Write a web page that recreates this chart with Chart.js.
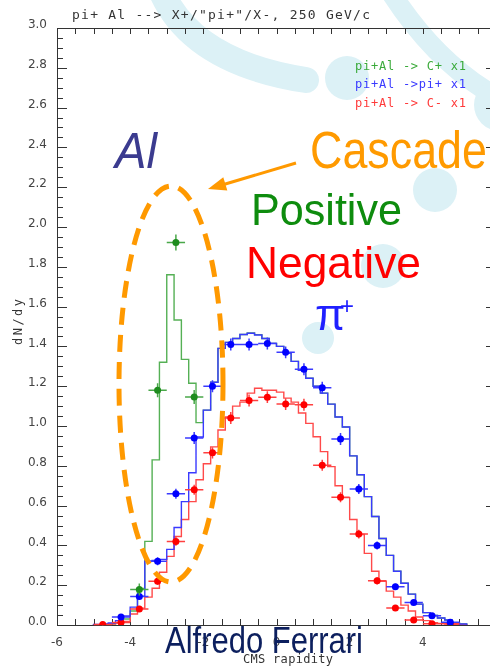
<!DOCTYPE html>
<html><head><meta charset="utf-8">
<script src="https://cdn.jsdelivr.net/npm/chart.js@4.4.1/dist/chart.umd.min.js"></script>
<style>
html,body{margin:0;padding:0;background:#fff;overflow:hidden;width:490px;height:667px;}
#wrap{position:relative;width:490px;height:667px;overflow:hidden;}
#bg,#fg{position:absolute;left:0;top:0;}
#cv{position:absolute;left:0;top:0;}
.sl{font-family:"Liberation Sans",Arial,sans-serif;}
.mono{font-family:"DejaVu Sans Mono",monospace;}
</style></head><body>
<div id="wrap">
<svg id="bg" width="490" height="667">
  <g fill="#dcf1f6" stroke="#dcf1f6">
    <path d="M160 -12 Q 190 62 306 80" stroke-width="26" fill="none" stroke-linecap="round"/>
    <path d="M388 -12 Q 430 55 485 90" stroke-width="20" fill="none" stroke-linecap="round"/>
    <circle cx="347" cy="78" r="22" stroke="none"/>
    <circle cx="435" cy="190" r="22" stroke="none"/>
    <circle cx="383" cy="266" r="22" stroke="none"/>
    <circle cx="318" cy="338" r="16" stroke="none"/>
    <circle cx="500" cy="105" r="26" stroke="none"/>
  </g>
</svg>
<canvas id="cv" width="500" height="667" style="width:500px;height:667px"></canvas>
<svg id="fg" width="490" height="667">
  <text class="mono" x="72" y="19" font-size="13" fill="#333" textLength="298" lengthAdjust="spacing">pi+ Al --&gt; X+/"pi+"/X-, 250 GeV/c</text>
  <text class="mono" x="355" y="70" font-size="12" fill="#3aaa3a" textLength="111" lengthAdjust="spacing">pi+Al -&gt; C+ x1</text>
  <text class="mono" x="355" y="88" font-size="12" fill="#3a3aff" textLength="111" lengthAdjust="spacing">pi+Al -&gt;pi+ x1</text>
  <text class="mono" x="355" y="106.5" font-size="12" fill="#ff3a3a" textLength="111" lengthAdjust="spacing">pi+Al -&gt; C- x1</text>
  <text class="mono" transform="translate(22,322) rotate(-90)" text-anchor="middle" font-size="12" fill="#333" textLength="46" lengthAdjust="spacing">dN/dy</text>
  <text class="mono" x="288" y="663" text-anchor="middle" font-size="12" fill="#333" textLength="90" lengthAdjust="spacing">CMS rapidity</text>

  <ellipse cx="171" cy="384" rx="52" ry="198" fill="none" stroke="#ff9900" stroke-width="5" stroke-dasharray="17 10"/>
  <line x1="296" y1="163" x2="222" y2="185" stroke="#ff9900" stroke-width="3"/>
  <polygon points="208,189 227.3,190.6 223.3,177.2" fill="#ff9900"/>

  <text class="sl" x="115" y="168" font-style="italic" font-size="50" fill="#3b3b8f" textLength="42" lengthAdjust="spacingAndGlyphs">Al</text>
  <text class="sl" x="310" y="168" font-size="51" fill="#ff9a00" textLength="177" lengthAdjust="spacingAndGlyphs">Cascade</text>
  <text class="sl" x="251" y="225" font-size="44" fill="#0e8c0e" textLength="151" lengthAdjust="spacingAndGlyphs">Positive</text>
  <text class="sl" x="246" y="278" font-size="45" fill="#ff0000" textLength="175" lengthAdjust="spacingAndGlyphs">Negative</text>
  <text class="sl" x="315" y="330" font-size="44" fill="#1f1fff">π</text>
  <text class="sl" x="340" y="314" font-size="24" fill="#1f1fff">+</text>
  <text class="sl" x="165" y="653" font-size="36" fill="#0c1f5e" textLength="198" lengthAdjust="spacingAndGlyphs">Alfredo Ferrari</text>
</svg>
</div>
<script>
// ---- tick labels ----
const xTickLabels = [-6, -4, -2, 0, 2, 4];
const yTickLabels = [0.0, 0.2, 0.4, 0.6, 0.8, 1.0, 1.2, 1.4, 1.6, 1.8, 2.0, 2.2, 2.4, 2.6, 2.8, 3.0];

// ---- histogram bins (edges) ----
const binEdges = [-5.0,-4.8,-4.6,-4.4,-4.2,-4.0,-3.8,-3.6,-3.4,-3.2,-3.0,-2.8,-2.6,-2.4,-2.2,-2.0,-1.8,-1.6,-1.4,-1.2,-1.0,
  -0.8,-0.6,-0.4,-0.2,0.0,0.2,0.4,0.6,0.8,1.0,1.2,1.4,1.6,1.8,2.0,2.2,2.4,2.6,2.8,3.0,3.2,3.4,3.6,3.8,4.0,4.2,4.4,4.6,4.8,5.0,5.2];

// simulation histograms (one value per bin)
const histPos = [0.002,0.003,0.006,0.012,0.030,0.070,0.184,0.420,0.830,1.320,1.760,1.533,1.335,1.215,1.017,1.080,1.220,1.390,1.420,1.440,1.460,
  1.468,1.459,1.440,1.415,1.400,1.365,1.325,1.280,1.240,1.200,1.165,1.110,1.045,0.995,0.850,0.755,0.645,0.545,0.435,0.350,0.270,0.210,0.155,0.105,0.062,0.048,0.035,0.025,0.012,0.005];
const histPiPlus = [0.003,0.005,0.010,0.022,0.045,0.090,0.145,0.320,0.325,0.330,0.380,0.490,0.620,0.765,0.945,1.080,1.220,1.390,1.420,1.440,1.460,
  1.466,1.457,1.440,1.415,1.400,1.365,1.325,1.280,1.240,1.200,1.165,1.110,1.045,0.995,0.850,0.755,0.645,0.545,0.435,0.350,0.270,0.210,0.155,0.105,0.062,0.048,0.035,0.025,0.012,0.005];
const histNeg = [0.002,0.003,0.005,0.010,0.018,0.055,0.085,0.140,0.185,0.265,0.345,0.445,0.530,0.620,0.730,0.810,0.895,0.980,1.045,1.100,1.120,
  1.165,1.190,1.180,1.180,1.170,1.140,1.120,1.065,1.013,0.946,0.871,0.796,0.700,0.640,0.530,0.455,0.360,0.270,0.220,0.170,0.140,0.100,0.070,0.040,0.022,0.012,0.008,0.005,0.003,0.002];

// experimental points
const posX = [-3.75, -3.25, -2.75, -2.25];
const posY = [0.178, 1.180, 1.922, 1.146];
const posErr = [0.030, 0.035, 0.040, 0.035];

const piX = [-4.25,-3.75,-3.25,-2.75,-2.25,-1.75,-1.25,-0.75,-0.25,0.25,0.75,1.25,1.75,2.25,2.75,3.25,3.75,4.25,4.75];
const piY = [0.040,0.143,0.320,0.660,0.940,1.200,1.410,1.410,1.415,1.370,1.285,1.192,0.935,0.683,0.400,0.192,0.113,0.046,0.014];
const piErr = [0.010,0.015,0.020,0.025,0.030,0.030,0.030,0.030,0.030,0.030,0.030,0.030,0.030,0.025,0.020,0.015,0.012,0.010,0.008];

const negX = [-4.75,-4.25,-3.75,-3.25,-2.75,-2.25,-1.75,-1.25,-0.75,-0.25,0.25,0.75,1.25,1.75,2.25,2.75,3.25,3.75,4.25,4.75];
const negY = [0.003,0.012,0.080,0.220,0.420,0.680,0.865,1.040,1.128,1.145,1.110,1.107,0.803,0.642,0.457,0.222,0.086,0.025,0.006,0.006];
const negErr = [0.006,0.008,0.012,0.018,0.022,0.025,0.028,0.030,0.030,0.030,0.030,0.030,0.028,0.025,0.022,0.018,0.012,0.008,0.006,0.006];

const halfBin = 0.25;

function histData(vals){
  const pts = [{x: binEdges[0], y: 0}];
  vals.forEach((v, i) => pts.push({x: binEdges[i], y: v}));
  pts.push({x: binEdges[binEdges.length - 1], y: 0});
  return pts;
}
function ptData(xs, ys){ return xs.map((x, i) => ({x: x, y: ys[i]})); }

function histDs(vals, color, order){
  return {data: histData(vals), borderColor: color, borderWidth: 1.4, stepped: 'before',
    pointRadius: 0, fill: false, order: order, tension: 0};
}
function ptDs(xs, ys, errs, color, barColor){
  return {data: ptData(xs, ys), showLine: false, pointRadius: 3.5, pointBackgroundColor: color,
    pointBorderColor: color, pointBorderWidth: 0, order: 0, errY: errs, barColor: barColor};
}

const framePlugin = {
  id: 'frame',
  beforeDatasetsDraw(chart){
    const {ctx, chartArea: a, scales: {x, y}} = chart;
    ctx.save();
    ctx.strokeStyle = '#333';
    ctx.lineWidth = 1;
    ctx.beginPath();
    ctx.rect(a.left + 0.5, a.top + 0.5, a.right - a.left, a.bottom - a.top);
    for (let k = -12; k <= 12; k++){
      const px = Math.round(x.getPixelForValue(k * 0.5)) + 0.5;
      ctx.moveTo(px, a.bottom); ctx.lineTo(px, a.bottom - 6);
      ctx.moveTo(px, a.top); ctx.lineTo(px, a.top + 6);
    }
    for (let k = 0; k <= 60; k++){
      const py = Math.round(y.getPixelForValue(k * 0.05)) + 0.5;
      const L = (k % 4 === 0) ? 10 : 6;
      ctx.moveTo(a.left, py); ctx.lineTo(a.left + L, py);
      ctx.moveTo(a.right, py); ctx.lineTo(a.right - L, py);
    }
    ctx.stroke();
    ctx.restore();
  },
  beforeDatasetDraw(chart, args){
    const ds = chart.data.datasets[args.index];
    if (!ds.errY) return;
    const {ctx, scales: {x, y}} = chart;
    ctx.save();
    ctx.strokeStyle = ds.barColor;
    ctx.lineWidth = 1.5;
    ctx.beginPath();
    ds.data.forEach((p, i) => {
      const px = x.getPixelForValue(p.x), py = y.getPixelForValue(p.y);
      ctx.moveTo(x.getPixelForValue(p.x - halfBin), py);
      ctx.lineTo(x.getPixelForValue(p.x + halfBin), py);
      ctx.moveTo(px, y.getPixelForValue(p.y - ds.errY[i]));
      ctx.lineTo(px, y.getPixelForValue(p.y + ds.errY[i]));
    });
    ctx.stroke();
    ctx.restore();
  }
};

new Chart(document.getElementById('cv'), {
  type: 'line',
  data: {
    datasets: [
      ptDs(posX, posY, posErr, '#1e8c1e', '#4aa84a'),
      ptDs(piX, piY, piErr, '#0000ff', '#3a3aff'),
      ptDs(negX, negY, negErr, '#ff0000', '#ff4040'),
      histDs(histPiPlus, '#3a3aff', 1),
      histDs(histNeg, '#ff4a4a', 2),
      histDs(histPos, '#55b055', 3)
    ]
  },
  options: {
    responsive: false,
    animation: false,
    layout: {padding: {top: 28, right: 4, left: 0, bottom: 0}},
    plugins: {legend: {display: false}, tooltip: {enabled: false}, title: {display: false}},
    scales: {
      x: {
        type: 'linear', min: -6, max: 6,
        afterFit(s){ s.height = 42; },
        afterBuildTicks(s){ s.ticks = xTickLabels.map(v => ({value: v})); },
        grid: {display: false, drawTicks: false},
        border: {display: false},
        ticks: {font: {family: 'DejaVu Sans', size: 12}, color: '#444', padding: 11,
          maxRotation: 0, autoSkip: false, callback: v => String(v)}
      },
      y: {
        type: 'linear', min: 0, max: 3,
        afterFit(s){ s.width = 57; },
        afterBuildTicks(s){ s.ticks = yTickLabels.map(v => ({value: v})); },
        grid: {display: false, drawTicks: false},
        border: {display: false},
        ticks: {font: {family: 'DejaVu Sans', size: 12}, color: '#444', padding: 10,
          labelOffset: -3, autoSkip: false, callback: v => Number(v).toFixed(1)}
      }
    }
  },
  plugins: [framePlugin]
});
</script>
</body></html>
